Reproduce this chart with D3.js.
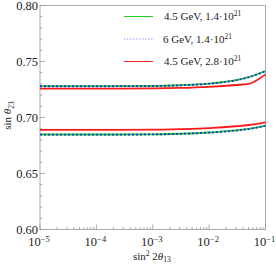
<!DOCTYPE html>
<html lang="en">
<head>
<meta charset="UTF-8">
<title>sin theta23 vs sin^2 2theta13</title>
<style>
    body { margin: 0; background: #fff; }
    svg { display: block; font-family: "Liberation Serif", "DejaVu Serif", serif; }
</style>
</head>
<body>
<div id="my_dataviz"></div>
<script src="https://d3js.org/d3.v7.min.js"></script>
<script>
// x values (sin^2 2theta13) shared by every curve
var xVals = [1e-5, 1e-4, 1e-3, 3e-3, 1e-2, 3e-2, 5e-2, 1e-1];

// upper branch
var upperGreen = [0.7280, 0.7280, 0.7282, 0.7288, 0.7303, 0.7333, 0.7360, 0.7415];
var upperBlue  = [0.7279, 0.7279, 0.7281, 0.7287, 0.7302, 0.7332, 0.7359, 0.7414];
var upperRed   = [0.7258, 0.7258, 0.7260, 0.7264, 0.7274, 0.7290, 0.7300, 0.7385];

// lower branch
var lowerGreen = [0.6848, 0.6848, 0.6850, 0.6855, 0.6866, 0.6885, 0.6898, 0.6928];
var lowerBlue  = [0.6847, 0.6847, 0.6849, 0.6854, 0.6865, 0.6884, 0.6897, 0.6927];
var lowerRed   = [0.6889, 0.6889, 0.6891, 0.6896, 0.6905, 0.6922, 0.6933, 0.6957];

var xTickExps = [-5, -4, -3, -2, -1];
var yTicks = [0.60, 0.65, 0.70, 0.75, 0.80];

var legendLabels = [
    { text: "4.5 GeV, 1.4\u00b710", sup: "21", color: "#22cc22", dash: null },
    { text: "6 GeV, 1.4\u00b710", sup: "21", color: "#9999ff", dash: "1.5,1.5" },
    { text: "4.5 GeV, 2.8\u00b710", sup: "21", color: "#ff2222", dash: null }
];

// dimensions
var W = 276, H = 266;
var margin = { top: 5.5, right: 10.5, bottom: 36.5, left: 40 },
    width = W - margin.left - margin.right,
    height = H - margin.top - margin.bottom;

var root = d3.select("#my_dataviz").append("svg")
    .attr("width", W)
    .attr("height", H);

var svg = root.append("g")
    .attr("transform", "translate(" + margin.left + "," + margin.top + ")");

var x = d3.scaleLog().domain([1e-5, 1e-1]).range([0, width]);
var y = d3.scaleLinear().domain([0.60, 0.80]).range([height, 0]);

// frame
svg.append("rect")
    .attr("width", width)
    .attr("height", height)
    .attr("fill", "none")
    .attr("stroke", "#aaa")
    .attr("stroke-width", 1);

// x ticks (inward)
var xMinor = [];
for (var e = -5; e < -1; e++) {
    for (var m = 2; m <= 9; m++) xMinor.push(m * Math.pow(10, e));
}
svg.append("g").selectAll("line.xminor").data(xMinor).enter().append("line")
    .attr("x1", function (d) { return x(d); })
    .attr("x2", function (d) { return x(d); })
    .attr("y1", height).attr("y2", height - 2.5)
    .attr("stroke", "#999").attr("stroke-width", 0.8);
svg.append("g").selectAll("line.xmajor").data(xTickExps).enter().append("line")
    .attr("x1", function (d) { return x(Math.pow(10, d)); })
    .attr("x2", function (d) { return x(Math.pow(10, d)); })
    .attr("y1", height).attr("y2", height - 5)
    .attr("stroke", "#999").attr("stroke-width", 0.8);

var xLab = svg.append("g").selectAll("text").data(xTickExps).enter().append("text")
    .attr("x", function (d) { return x(Math.pow(10, d)) - 1; })
    .attr("y", height + 16.5)
    .attr("text-anchor", "middle")
    .style("font-size", "12.5px")
    .attr("fill", "#222");
xLab.append("tspan").text("10");
xLab.append("tspan")
    .attr("dy", -4.5)
    .style("font-size", "8.5px")
    .text(function (d) { return "\u2212" + Math.abs(d); });

// y ticks (inward)
var yMinor = d3.range(0, 21).map(function (i) { return 0.60 + i * 0.01; });
svg.append("g").selectAll("line").data(yMinor).enter().append("line")
    .attr("x1", 0)
    .attr("x2", function (d, i) { return i % 5 === 0 ? 5 : 2.5; })
    .attr("y1", function (d) { return y(d); })
    .attr("y2", function (d) { return y(d); })
    .attr("stroke", "#999").attr("stroke-width", 0.8);

svg.append("g").selectAll("text").data(yTicks).enter().append("text")
    .attr("x", -2)
    .attr("y", function (d) { return y(d) + 4; })
    .attr("text-anchor", "end")
    .style("font-size", "12.5px")
    .attr("fill", "#222")
    .text(function (d) { return d.toFixed(2); });

// axis titles
var xt = svg.append("text")
    .attr("x", width / 2 - 1)
    .attr("y", height + 30)
    .attr("text-anchor", "middle")
    .style("font-size", "11px")
    .attr("fill", "#222");
xt.append("tspan").text("sin");
xt.append("tspan").attr("dy", -4).style("font-size", "7.5px").text("2");
xt.append("tspan").attr("dy", 4).text(" 2");
xt.append("tspan").style("font-style", "italic").text("\u03b8");
xt.append("tspan").attr("dy", 2.5).style("font-size", "7.5px").text("13");

var yt = svg.append("text")
    .attr("transform", "translate(" + (-29) + "," + (y(0.70) - 2) + ") rotate(-90)")
    .attr("text-anchor", "middle")
    .style("font-size", "11px")
    .attr("fill", "#222");
yt.append("tspan").text("sin ");
yt.append("tspan").style("font-style", "italic").text("\u03b8");
yt.append("tspan").attr("dy", 2.5).style("font-size", "7.5px").text("23");

// curves
var line = d3.line()
    .x(function (d) { return x(d[0]); })
    .y(function (d) { return y(d[1]); })
    .curve(d3.curveMonotoneX);

function pts(vals) {
    return xVals.map(function (v, i) { return [v, vals[i]]; });
}

var plot = svg.append("g");
var series = [
    { vals: upperRed, color: "#ff1a1a", dash: null },
    { vals: lowerRed, color: "#ff1a1a", dash: null },
    { vals: upperGreen, color: "#22cc22", dash: null },
    { vals: lowerGreen, color: "#22cc22", dash: null },
    { vals: upperBlue, color: "#2233ee", dash: "2,2" },
    { vals: lowerBlue, color: "#2233ee", dash: "2,2" }
];
series.forEach(function (s) {
    plot.append("path")
        .datum(pts(s.vals))
        .attr("d", line)
        .attr("fill", "none")
        .attr("stroke", s.color)
        .attr("stroke-width", 1.8)
        .attr("stroke-dasharray", s.dash);
});

// legend
var legend = svg.selectAll(".legend").data(legendLabels).enter().append("g")
    .attr("class", "legend")
    .attr("transform", function (d, i) { return "translate(" + (84) + "," + (11 + i * 22.5) + ")"; });

legend.append("line")
    .attr("x1", 0).attr("x2", 29)
    .attr("stroke", function (d) { return d.color; })
    .attr("stroke-width", 1)
    .attr("stroke-dasharray", function (d) { return d.dash; });

var lt = legend.append("text")
    .attr("x", function (d, i) { return i === 1 ? 39 : 40; })
    .attr("y", 3.5)
    .style("font-size", "11px")
    .attr("fill", "#222");
lt.append("tspan").text(function (d) { return d.text; });
lt.append("tspan").attr("dy", -4).style("font-size", "7.5px").text(function (d) { return d.sup; });
</script>
</body>
</html>
